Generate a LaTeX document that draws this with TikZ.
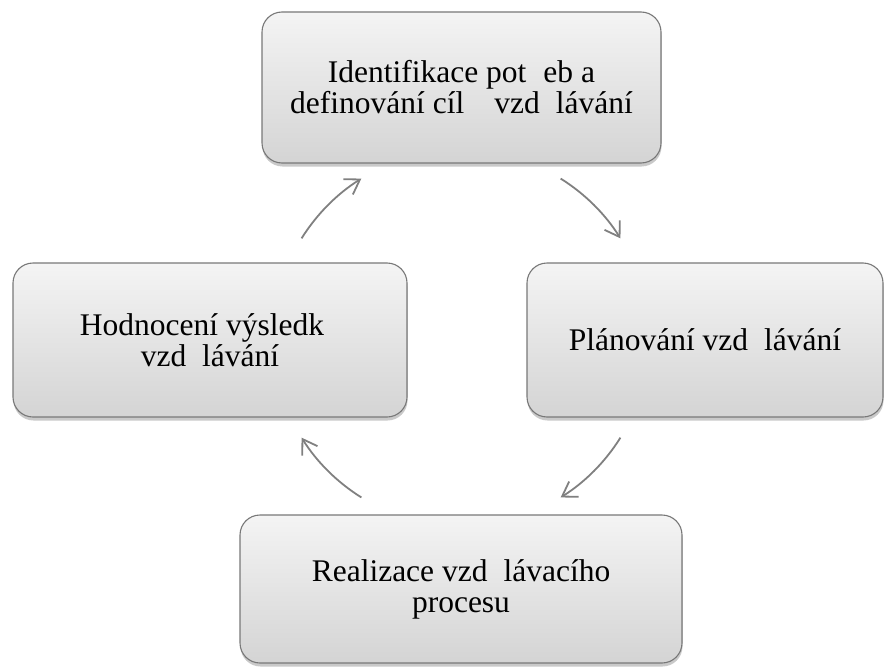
\documentclass[tikz,border=0pt]{standalone}
\usepackage{fontspec}
\setmainfont{Liberation Serif}
\usetikzlibrary{arrows.meta,shadows,calc}
\definecolor{boxtop}{RGB}{244,244,244}
\definecolor{boxbot}{RGB}{212,212,212}
\definecolor{boxline}{RGB}{120,120,120}
\definecolor{arrowgray}{RGB}{128,128,128}
\newcommand{\mygap}[1]{\hspace*{#1pt}}
\tikzset{
  cyclebox/.style={draw=boxline, line width=1.1pt, rounded corners=20pt,
    top color=boxtop, bottom color=boxbot, inner sep=0pt, align=center,
    font=\fontsize{31.5}{31}\selectfont,
    drop shadow={shadow xshift=0.5pt, shadow yshift=-3.5pt, opacity=0.3, fill=black!70}},
  cyclearrow/.style={draw=arrowgray, line width=1.8pt,
    -{Straight Barb[length=14pt,width=18pt]}}
}
\begin{document}
\begin{tikzpicture}[x=1pt,y=-1pt]
\useasboundingbox (0,0) rectangle (885,666);
\node[cyclebox, minimum width=399pt, minimum height=151pt] (top) at (461.5,87.5)
  {Identifikace pot\mygap{17}eb a\\definování cíl\mygap{30}vzd\mygap{16}lávání};
\node[cyclebox, minimum width=356pt, minimum height=154pt] (right) at (705,340)
  {Plánování vzd\mygap{16}lávání};
\node[cyclebox, minimum width=394pt, minimum height=154pt] (left) at (210,340)
  {Hodnocení výsledk\mygap{16}\\vzd\mygap{16}lávání};
\node[cyclebox, minimum width=442pt, minimum height=148pt] (bottom) at (461,589)
  {Realizace vzd\mygap{16}lávacího\\procesu};
\coordinate (c) at (461,338);
\coordinate (s1) at ($(c)+(-148:188)$);
\coordinate (s2) at ($(c)+(-58:188)$);
\coordinate (s3) at ($(c)+(32:188)$);
\coordinate (s4) at ($(c)+(122:188)$);
\draw[cyclearrow] (s1) arc[start angle=-148, end angle=-122, radius=188];
\draw[cyclearrow] (s2) arc[start angle=-58, end angle=-32, radius=188];
\draw[cyclearrow] (s3) arc[start angle=32, end angle=58, radius=188];
\draw[cyclearrow] (s4) arc[start angle=122, end angle=148, radius=188];
\end{tikzpicture}
\end{document}
